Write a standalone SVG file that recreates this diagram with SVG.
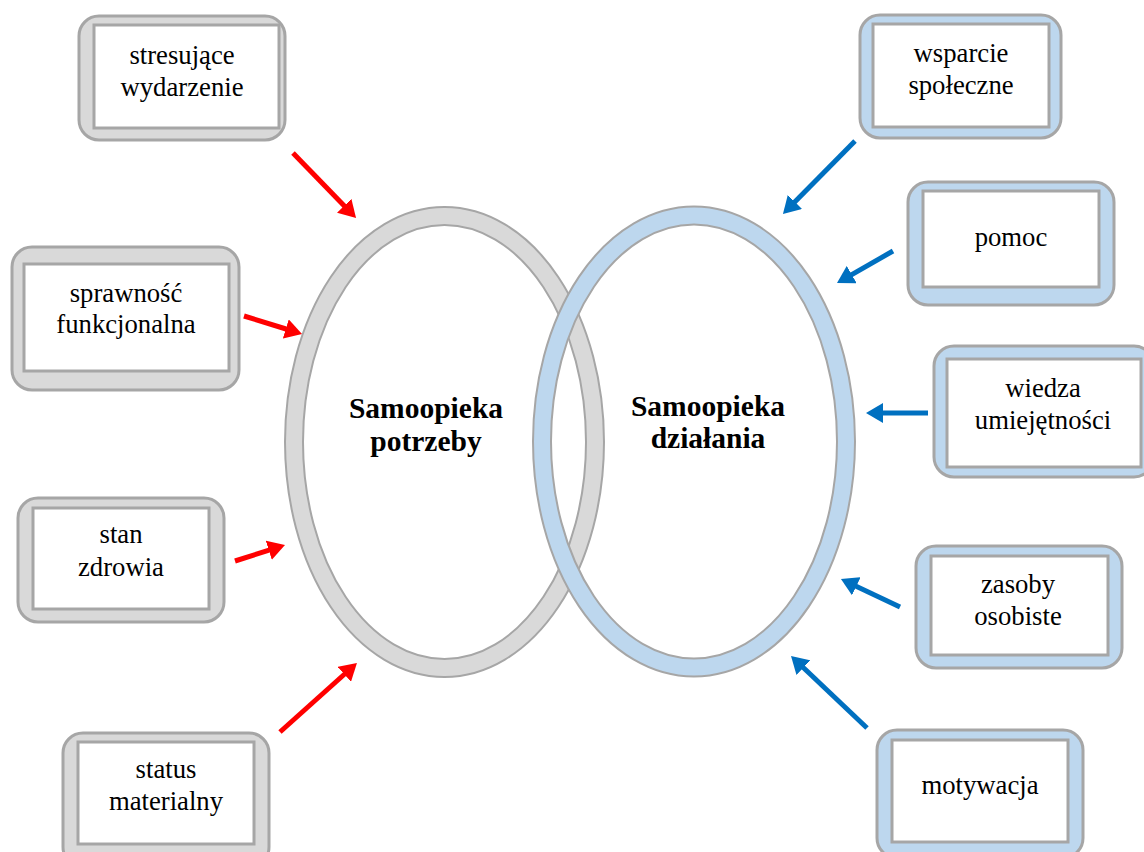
<svg xmlns="http://www.w3.org/2000/svg" width="1144" height="852" viewBox="0 0 1144 852">
<defs>
<style>
.og{fill:#d9d9d9;stroke:#a6a6a6;stroke-width:3}
.ob{fill:#bdd7ee;stroke:#a6a6a6;stroke-width:3}
.in{fill:#ffffff;stroke:#a6a6a6;stroke-width:3}
.t{font-family:'Liberation Serif','DejaVu Serif',serif;font-size:26.7px;fill:#000;text-anchor:middle}
.tb{font-family:'Liberation Serif','DejaVu Serif',serif;font-size:29.5px;font-weight:bold;fill:#000;text-anchor:middle}
.ar{stroke:#ff0000;stroke-width:5;fill:none}
.ab{stroke:#0070c0;stroke-width:5;fill:none}
</style>
<marker id="mr" markerUnits="strokeWidth" markerWidth="3.4" markerHeight="4" refX="0.4" refY="2" orient="auto"><path d="M0,0 L3.4,2 L0,4 z" fill="#ff0000"/></marker>
<marker id="mb" markerUnits="strokeWidth" markerWidth="3.4" markerHeight="4" refX="0.4" refY="2" orient="auto"><path d="M0,0 L3.4,2 L0,4 z" fill="#0070c0"/></marker>
</defs>
<rect width="1144" height="852" fill="#ffffff"/>

<g id="ellipse-potrzeby">
<ellipse cx="444.5" cy="442" rx="150.5" ry="226" fill="none" stroke="#a6a6a6" stroke-width="20"/>
<ellipse cx="444.5" cy="442" rx="150.5" ry="226" fill="none" stroke="#d9d9d9" stroke-width="16"/>
<text class="tb" x="426" y="418">Samoopieka</text>
<text class="tb" x="426" y="451">potrzeby</text>
</g>
<g id="ellipse-dzialania">
<ellipse cx="694" cy="441.5" rx="152" ry="226" fill="none" stroke="#a6a6a6" stroke-width="20"/>
<ellipse cx="694" cy="441.5" rx="152" ry="226" fill="none" stroke="#bdd7ee" stroke-width="16"/>
<text class="tb" x="708" y="416">Samoopieka</text>
<text class="tb" x="708" y="448">działania</text>
</g>

<g id="n-stresujace">
<rect class="og" x="79" y="16" width="206" height="124" rx="20"/>
<rect class="in" x="94" y="25" width="185" height="103"/>
<text class="t" x="182" y="64">stresujące</text>
<text class="t" x="182" y="96">wydarzenie</text>
</g>
<g id="n-sprawnosc">
<rect class="og" x="12" y="247" width="227" height="143" rx="20"/>
<rect class="in" x="24" y="264" width="205" height="107"/>
<text class="t" x="126" y="302">sprawność</text>
<text class="t" x="126" y="333">funkcjonalna</text>
</g>
<g id="n-stan">
<rect class="og" x="18" y="498" width="206" height="124" rx="20"/>
<rect class="in" x="33" y="508" width="176" height="101"/>
<text class="t" x="121" y="543">stan</text>
<text class="t" x="121" y="576">zdrowia</text>
</g>
<g id="n-status">
<rect class="og" x="63" y="733" width="206" height="134" rx="20"/>
<rect class="in" x="78" y="742" width="176" height="102"/>
<text class="t" x="166" y="778">status</text>
<text class="t" x="166" y="810">materialny</text>
</g>
<g id="n-wsparcie">
<rect class="ob" x="860" y="15" width="201" height="123" rx="20"/>
<rect class="in" x="873" y="24" width="176" height="103"/>
<text class="t" x="961" y="62">wsparcie</text>
<text class="t" x="961" y="94">społeczne</text>
</g>
<g id="n-pomoc">
<rect class="ob" x="908" y="182" width="206" height="123" rx="20"/>
<rect class="in" x="923" y="191" width="176" height="96"/>
<text class="t" x="1011" y="246">pomoc</text>
</g>
<g id="n-wiedza">
<rect class="ob" x="934" y="346" width="220" height="131" rx="20"/>
<rect class="in" x="947" y="359" width="194" height="108"/>
<text class="t" x="1043" y="397">wiedza</text>
<text class="t" x="1043" y="429">umiejętności</text>
</g>
<g id="n-zasoby">
<rect class="ob" x="916" y="546" width="206" height="122" rx="20"/>
<rect class="in" x="931" y="556" width="177" height="99"/>
<text class="t" x="1018" y="593">zasoby</text>
<text class="t" x="1018" y="625">osobiste</text>
</g>
<g id="n-motywacja">
<rect class="ob" x="877" y="730" width="206" height="128" rx="20"/>
<rect class="in" x="892" y="740" width="176" height="102"/>
<text class="t" x="980" y="794">motywacja</text>
</g>

<g id="connectors">
<line class="ar" x1="293" y1="153" x2="345.6" y2="207.2" marker-end="url(#mr)"/>
<line class="ar" x1="244" y1="316" x2="287.7" y2="329.5" marker-end="url(#mr)"/>
<line class="ar" x1="235" y1="561" x2="270.7" y2="549.6" marker-end="url(#mr)"/>
<line class="ar" x1="280" y1="732" x2="345.8" y2="673" marker-end="url(#mr)"/>
<line class="ab" x1="855" y1="141" x2="793.5" y2="203.3" marker-end="url(#mb)"/>
<line class="ab" x1="893" y1="251" x2="850" y2="275.6" marker-end="url(#mb)"/>
<line class="ab" x1="928" y1="413" x2="881" y2="413" marker-end="url(#mb)"/>
<line class="ab" x1="900" y1="607" x2="854.5" y2="585.4" marker-end="url(#mb)"/>
<line class="ab" x1="867" y1="728" x2="801.9" y2="666.3" marker-end="url(#mb)"/>
</g>
</svg>
